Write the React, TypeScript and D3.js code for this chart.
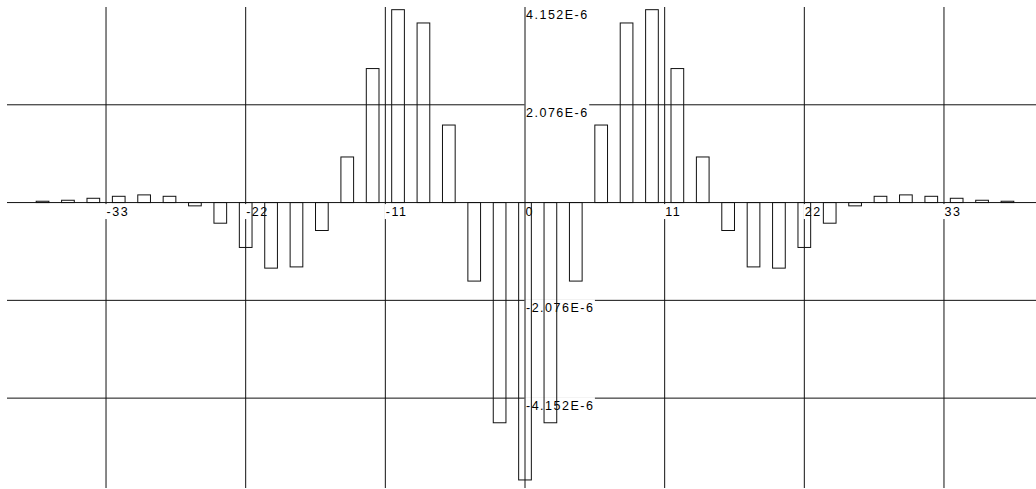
import { useEffect, useRef } from 'react'
import * as d3 from 'd3'

const xCategories = [
  -38, -36, -34, -32, -30, -28, -26, -24, -22, -20, -18, -16, -14, -12, -10, -8, -6, -4, -2,
  0, 2, 4, 6, 8, 10, 12, 14, 16, 18, 20, 22, 24, 26, 28, 30, 32, 34, 36, 38,
]
const barValues = [
  0.028e-6, 0.049e-6, 0.091e-6, 0.133e-6, 0.163e-6, 0.133e-6, -0.07e-6, -0.438e-6, -0.953e-6,
  -1.392e-6, -1.366e-6, -0.593e-6, 0.968e-6, 2.845e-6, 4.095e-6, 3.813e-6, 1.646e-6, -1.667e-6,
  -4.675e-6, -5.889e-6, -4.675e-6, -1.667e-6, 1.646e-6, 3.813e-6, 4.095e-6, 2.845e-6, 0.968e-6,
  -0.593e-6, -1.366e-6, -1.392e-6, -0.953e-6, -0.438e-6, -0.07e-6, 0.133e-6, 0.163e-6, 0.133e-6,
  0.091e-6, 0.049e-6, 0.028e-6,
]
const xTickValues = [-33, -22, -11, 0, 11, 22, 33]
const xTickLabels = ['-33', '-22', '-11', '0', '11', '22', '33']
const yTickValues = [4.152e-6, 2.076e-6, -2.076e-6, -4.152e-6]
const yTickLabels = ['4.152E-6', '2.076E-6', '-2.076E-6', '-4.152E-6']

function App() {
  const ref = useRef<SVGSVGElement>(null)

  useEffect(() => {
    const width = 1036
    const height = 489
    const plot = { left: 7, top: 7, right: 1043, bottom: 488 }
    const ink = '#111'

    const xScale = d3.scaleLinear().domain([-40.8, 40.8]).range([plot.left, plot.right])
    const yScale = d3.scaleLinear().domain([-6.06e-6, 4.152e-6]).range([plot.bottom, plot.top])

    const svg = d3.select(ref.current)
    svg.selectAll('*').remove()
    svg.attr('width', width).attr('height', height)

    // grid lines (axes at zero are drawn later, on top of labels)
    svg
      .append('g')
      .selectAll('line')
      .data(xTickValues.filter(d => d !== 0))
      .join('line')
      .attr('x1', d => xScale(d))
      .attr('x2', d => xScale(d))
      .attr('y1', plot.top)
      .attr('y2', plot.bottom)
      .attr('stroke', ink)

    svg
      .append('g')
      .selectAll('line')
      .data(yTickValues.filter(d => yScale(d) > plot.top + 1))
      .join('line')
      .attr('x1', plot.left)
      .attr('x2', width)
      .attr('y1', d => yScale(d))
      .attr('y2', d => yScale(d))
      .attr('stroke', ink)

    const labels = svg.append('g')
      .style('font-family', '"Liberation Sans", Arial, sans-serif')
      .style('font-size', '12.5px')
      .style('letter-spacing', '1.5px')

    const addLabel = (tx: number, ty: number, text: string, padTop: number) => {
      const g = labels.append('g')
      const rect = g.append('rect').attr('fill', '#fff')
      const t = g.append('text').attr('x', tx).attr('y', ty).attr('fill', '#000').text(text)
      const box = (t.node() as SVGTextElement).getBBox()
      rect
        .attr('x', tx - 1.5)
        .attr('y', ty - 12 + padTop)
        .attr('width', box.width + 2)
        .attr('height', 15 - padTop)
    }

    const zeroY = yScale(0)
    xTickValues.forEach((d, i) => {
      addLabel(xScale(d) + 0.5, zeroY + 13.5, xTickLabels[i], 0)
    })
    yTickValues.forEach((d, i) => {
      addLabel(xScale(0) + 1, yScale(d) + 12, yTickLabels[i], -1)
    })

    // zero axes
    svg
      .append('line')
      .attr('x1', plot.left)
      .attr('x2', width)
      .attr('y1', zeroY)
      .attr('y2', zeroY)
      .attr('stroke', ink)
    svg
      .append('line')
      .attr('x1', xScale(0))
      .attr('x2', xScale(0))
      .attr('y1', plot.top)
      .attr('y2', plot.bottom)
      .attr('stroke', ink)

    // bars
    svg
      .append('g')
      .selectAll('rect')
      .data(xCategories.map((c, i) => ({ c, v: barValues[i] })))
      .join('rect')
      .attr('x', d => xScale(d.c - 0.5))
      .attr('width', d => xScale(d.c + 0.5) - xScale(d.c - 0.5))
      .attr('y', d => yScale(Math.max(0, d.v)))
      .attr('height', d => Math.abs(yScale(d.v) - yScale(0)))
      .attr('fill', 'none')
      .attr('stroke', ink)
  }, [])

  return (
    <svg
      ref={ref}
      style={{ position: 'absolute', left: 0, top: 0, display: 'block', background: '#fff' }}
    />
  )
}

export default App
